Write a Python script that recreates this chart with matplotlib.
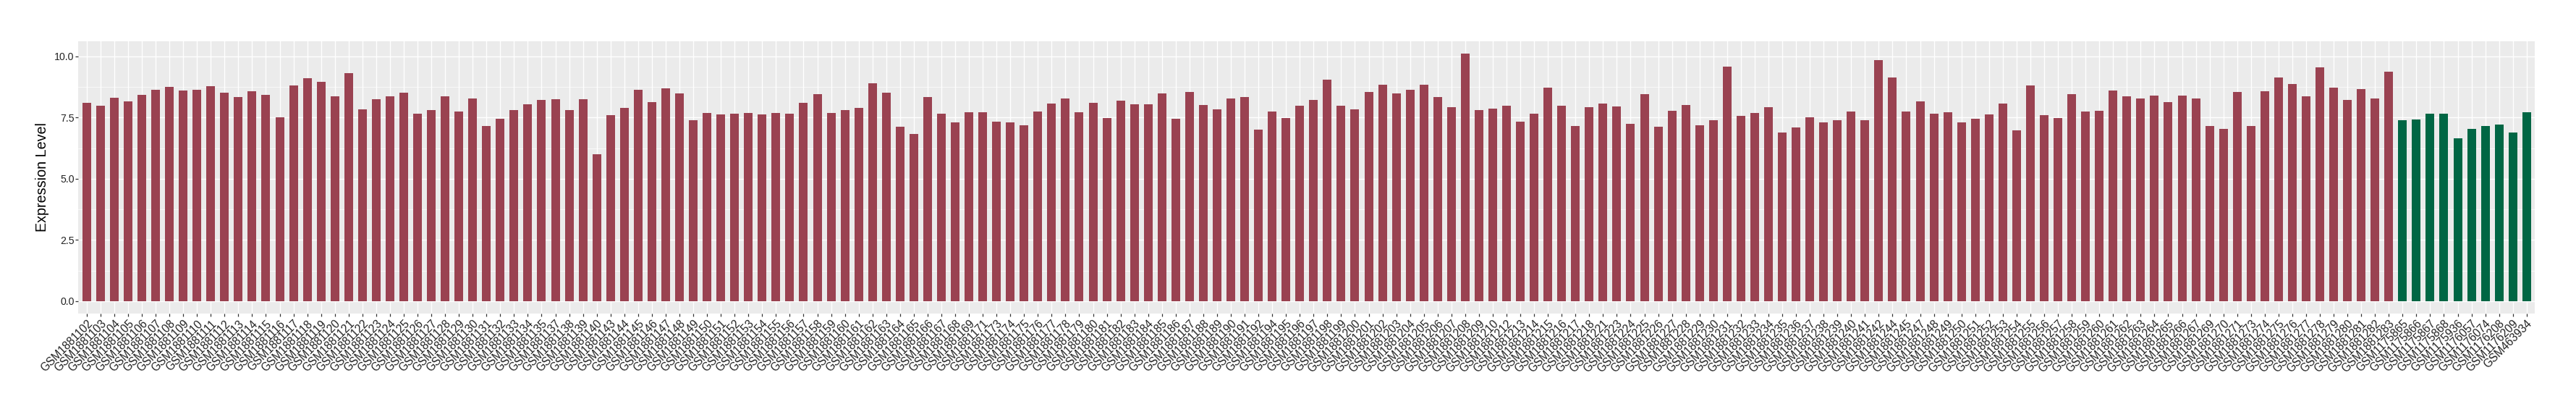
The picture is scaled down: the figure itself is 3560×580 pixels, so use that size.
import matplotlib
matplotlib.use("Agg")
import matplotlib.pyplot as plt
from matplotlib.ticker import MultipleLocator

# ---------------- data ----------------
red_ids = [1102, 1103, 1104, 1105, 1106, 1107, 1108, 1109, 1110, 1111, 1112, 1113, 1114, 1115,
           1116, 1117, 1118, 1119, 1120, 1121, 1122, 1123, 1124, 1125, 1126, 1127, 1128, 1129,
           1130, 1131, 1132, 1133, 1134, 1135, 1137, 1138, 1139, 1140, 1143, 1144, 1145, 1146,
           1147, 1148, 1149, 1150, 1151, 1152, 1153, 1154, 1155, 1156, 1157, 1158, 1159, 1160,
           1161, 1162, 1163, 1164, 1165, 1166, 1167, 1168, 1169, 1171, 1173, 1174, 1175, 1176,
           1177, 1178, 1179, 1180, 1181, 1182, 1183, 1184, 1185, 1186, 1187, 1188, 1189, 1190,
           1191, 1192, 1194, 1195, 1196, 1197, 1198, 1199, 1200, 1201, 1202, 1203, 1204, 1205,
           1206, 1207, 1208, 1209, 1210, 1212, 1213, 1214, 1215, 1216, 1217, 1218, 1221, 1223,
           1224, 1225, 1226, 1227, 1228, 1229, 1230, 1231, 1232, 1233, 1234, 1235, 1236, 1237,
           1238, 1239, 1240, 1241, 1242, 1244, 1245, 1247, 1248, 1249, 1250, 1251, 1252, 1253,
           1254, 1255, 1256, 1257, 1258, 1259, 1260, 1261, 1262, 1263, 1264, 1265, 1266, 1267,
           1269, 1270, 1271, 1273, 1274, 1275, 1276, 1277, 1278, 1279, 1280, 1281, 1282, 1283]
red_labels = ["GSM188" + str(i) for i in red_ids]
red_values = [8.11, 7.99, 8.31, 8.17, 8.43, 8.64, 8.76, 8.61, 8.64, 8.79, 8.52, 8.34, 8.58, 8.43,
              7.51, 8.82, 9.11, 8.96, 8.37, 9.32, 7.84, 8.25, 8.37, 8.52, 7.66, 7.81, 8.37, 7.75,
              8.28, 7.16, 7.46, 7.81, 8.05, 8.22, 8.25, 7.81, 8.25, 6.01, 7.60, 7.90, 8.64, 8.14,
              8.70, 8.49, 7.40, 7.69, 7.63, 7.66, 7.69, 7.63, 7.69, 7.66, 8.11, 8.46, 7.69, 7.81,
              7.90, 8.91, 8.52, 7.13, 6.83, 8.34, 7.66, 7.31, 7.72, 7.72, 7.34, 7.31, 7.19, 7.75,
              8.08, 8.28, 7.72, 8.11, 7.49, 8.20, 8.05, 8.05, 8.49, 7.46, 8.55, 8.02, 7.84, 8.28,
              8.34, 7.01, 7.75, 7.49, 7.99, 8.22, 9.05, 7.99, 7.84, 8.55, 8.85, 8.49, 8.64, 8.85,
              8.34, 7.93, 10.12, 7.81, 7.87, 7.99, 7.34, 7.66, 8.73, 7.99, 7.16, 7.93, 8.08, 7.96,
              7.25, 8.46, 7.13, 7.78, 8.02, 7.19, 7.40, 9.59, 7.57, 7.69, 7.93, 6.89, 7.10, 7.51,
              7.31, 7.40, 7.75, 7.40, 9.85, 9.14, 7.75, 8.17, 7.66, 7.72, 7.31, 7.46, 7.63, 8.08,
              6.98, 8.82, 7.60, 7.49, 8.46, 7.75, 7.78, 8.61, 8.37, 8.28, 8.40, 8.14, 8.40, 8.28,
              7.16, 7.04, 8.55, 7.16, 8.58, 9.14, 8.88, 8.37, 9.56, 8.73, 8.22, 8.67, 8.28, 9.38]

green_labels = ["GSM1175865", "GSM1175866", "GSM1175867", "GSM1175868", "GSM1175936",
                "GSM1176057", "GSM1176074", "GSM1176208", "GSM1176209", "GSM463934"]
green_values = [7.40, 7.43, 7.66, 7.66, 6.66, 7.04, 7.16, 7.22, 6.89, 7.72]

y_label = "Expression Level"
red_color = "#9A4251"
green_color = "#006644"

# ---------------- plot ----------------
plt.rcParams['font.family'] = ['Liberation Sans', 'DejaVu Sans']

labels = red_labels + green_labels
values = red_values + green_values
colors = [red_color] * len(red_values) + [green_color] * len(green_values)
x = list(range(len(labels)))

W, H = 3560, 580
fig = plt.figure(figsize=(W / 100, H / 100), dpi=100)
ax = fig.add_axes([108.4 / W, 1 - 433.0 / H, (3503.2 - 108.4) / W, (433.0 - 56.6) / H])

ax.set_facecolor("#EBEBEB")
ax.bar(x, values, width=0.63, color=colors, zorder=3)

n = len(labels)
ax.set_xlim(-0.6, n - 1 + 0.6)
vmax = max(values)
ax.set_ylim(-0.05 * vmax, vmax * 1.05)

ax.yaxis.set_minor_locator(MultipleLocator(1.25))
ax.set_yticks([0, 2.5, 5.0, 7.5, 10.0])
ax.set_yticklabels(["0.0", "2.5", "5.0", "7.5", "10.0"])
ax.set_xticks(x)
ax.set_xticklabels(labels, rotation=45, ha='right', va='top', rotation_mode='anchor')

ax.grid(which='major', axis='both', color='white', linewidth=1.0, zorder=0)
ax.grid(which='minor', axis='y', color='white', linewidth=0.5, zorder=0)
ax.set_axisbelow(True)

for s in ax.spines.values():
    s.set_visible(False)

ax.tick_params(axis='both', which='major', length=2.6, width=0.9, color='#333333',
               labelcolor='#222222', pad=1.5)
ax.tick_params(axis='y', labelsize=10.2)
ax.tick_params(axis='y', which='minor', length=0)
ax.tick_params(axis='x', labelsize=11.2, pad=2.0)

ax.set_ylabel(y_label, fontsize=14.2, color='black', labelpad=5)

fig.savefig("out.png", dpi=100, facecolor='white')
